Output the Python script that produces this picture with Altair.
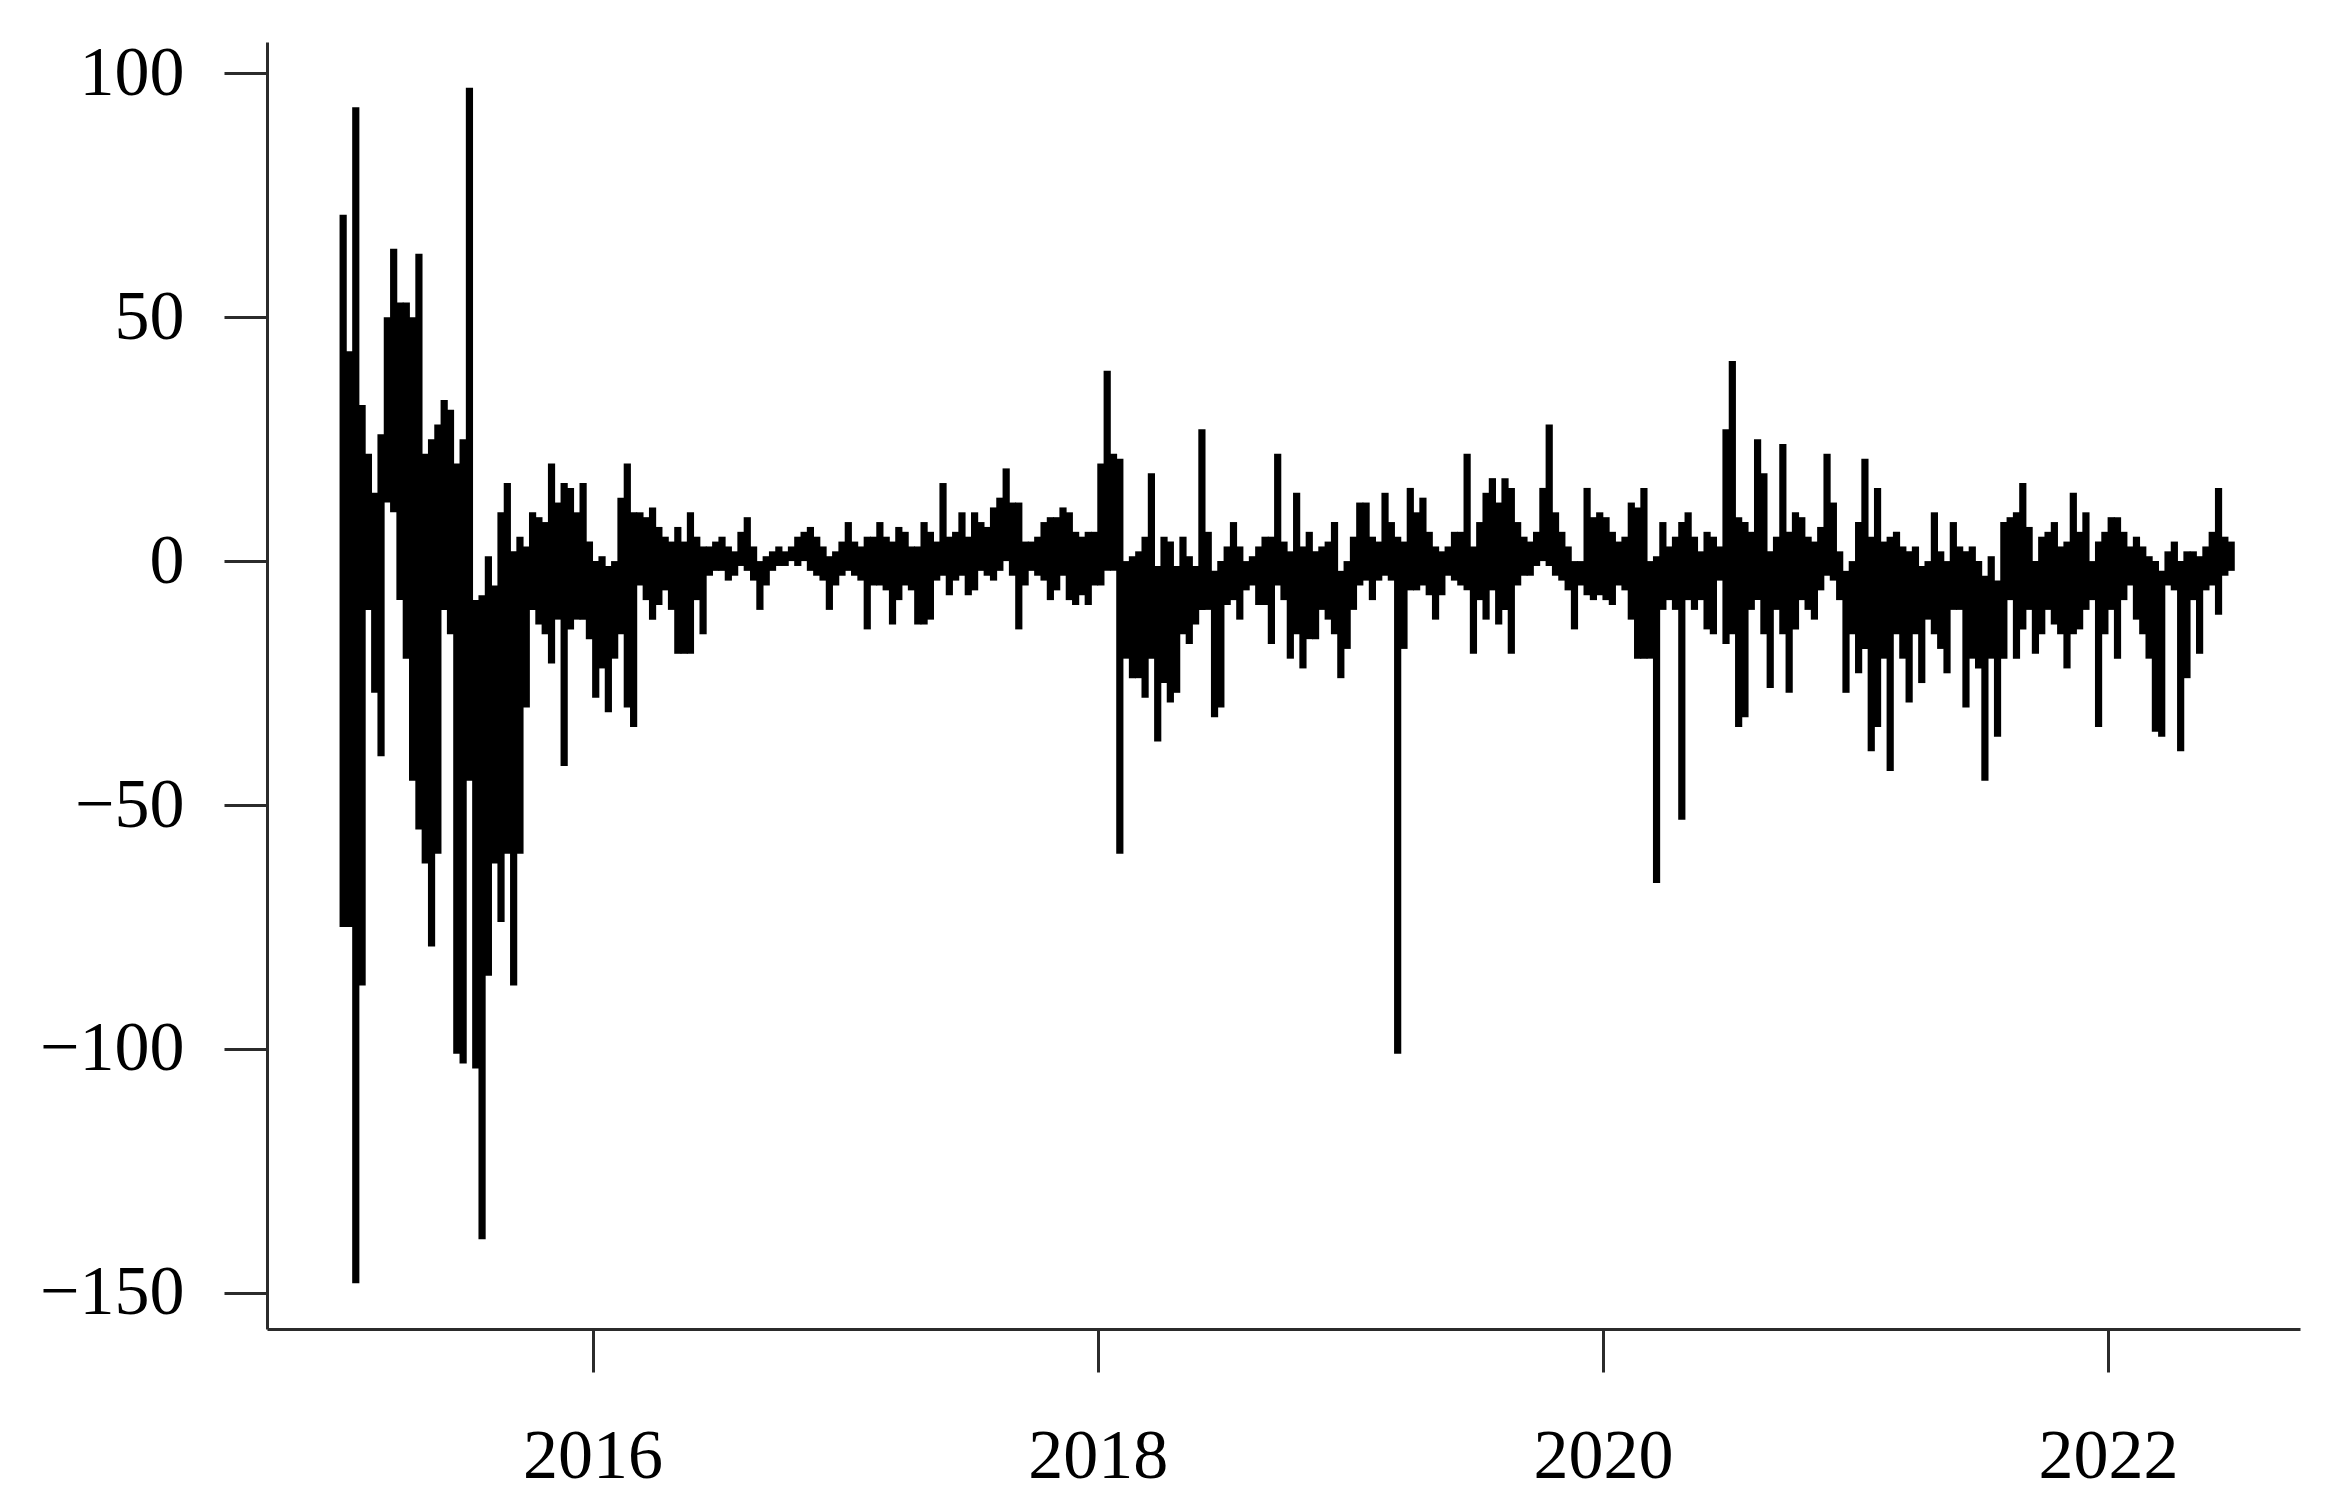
import altair as alt
import pandas as pd

# Time grid: buckets of 0.025 year starting at 2015.0 (each bucket shows the
# low and high of the series within that bucket, as read from the picture)
START_YEAR = 2015.0
STEP = 0.025

lo_2015 = [-75, -75, -148, -87, -10, -27, -40, 12, 10, -8,
           -20, -45, -55, -62, -79, -60, -10, -15, -101, -103,
           -45, -104, -139, -85, -62, -74, -60, -87, -60, -30,
           -10, -13, -15, -21, -12, -42, -14, -12, -12, -16]
hi_2015 = [71, 43, 93, 32, 22, 14, 26, 50, 64, 53,
           53, 50, 63, 22, 25, 28, 33, 31, 20, 25,
           97, -8, -7, 1, -5, 10, 16, 2, 5, 3,
           10, 9, 8, 20, 12, 16, 15, 10, 16, 4]

lo_2016 = [-28, -22, -31, -20, -15, -30, -34, -5, -8, -12,
           -9, -6, -10, -19, -19, -19, -8, -15, -3, -2,
           -2, -4, -3, -1, -2, -4, -10, -5, -2, -1,
           -1, 0, -1, 0, -2, -3, -4, -10, -5, -3]
hi_2016 = [0, 1, -1, 0, 13, 20, 10, 10, 9, 11,
           7, 5, 4, 7, 4, 10, 5, 3, 3, 4,
           5, 3, 2, 6, 9, 3, 0, 1, 2, 3,
           2, 3, 5, 6, 7, 5, 3, 1, 2, 4]

lo_2017 = [-2, -3, -4, -14, -5, -5, -6, -13, -8, -5,
           -6, -13, -13, -12, -4, -3, -7, -4, -3, -7,
           -6, -2, -3, -4, -2, 0, -3, -14, -5, -2,
           -3, -4, -8, -6, -3, -8, -9, -7, -9, -5]
hi_2017 = [8, 4, 3, 5, 5, 8, 5, 4, 7, 6,
           3, 3, 8, 6, 4, 16, 5, 6, 10, 5,
           10, 8, 7, 11, 13, 19, 12, 12, 4, 4,
           5, 8, 9, 9, 11, 10, 6, 5, 6, 6]

lo_2018 = [-5, -2, -2, -60, -20, -24, -24, -28, -20, -37,
           -25, -29, -27, -15, -17, -13, -10, -10, -32, -30,
           -9, -8, -12, -6, -5, -9, -9, -17, -5, -8,
           -20, -15, -22, -16, -16, -10, -12, -15, -24, -18]
hi_2018 = [20, 39, 22, 21, 0, 1, 2, 5, 18, -1,
           5, 4, -1, 5, 1, -1, 27, 6, -2, 0,
           3, 8, 3, 0, 1, 3, 5, 5, 22, 4,
           2, 14, 3, 6, 2, 3, 4, 8, -2, 0]

lo_2019 = [-10, -5, -4, -8, -4, -3, -4, -101, -18, -6,
           -6, -5, -7, -12, -7, -3, -4, -5, -6, -19,
           -8, -12, -6, -13, -10, -19, -5, -3, -3, -1,
           0, -1, -3, -4, -6, -14, -5, -7, -8, -7]
hi_2019 = [5, 12, 12, 5, 4, 14, 8, 5, 4, 15,
           10, 13, 6, 3, 2, 3, 6, 6, 22, 3,
           8, 14, 17, 12, 17, 15, 8, 5, 4, 6,
           15, 28, 10, 6, 3, 0, 0, 15, 9, 10]

lo_2020 = [-8, -9, -5, -6, -12, -20, -20, -20, -66, -10,
           -8, -10, -53, -8, -10, -8, -14, -15, -4, -17,
           -15, -34, -32, -10, -8, -15, -26, -10, -15, -27,
           -14, -8, -10, -12, -6, -3, -4, -8, -27, -15]
hi_2020 = [9, 6, 4, 5, 12, 11, 15, 0, 1, 8,
           3, 5, 8, 10, 5, 2, 6, 5, 3, 27,
           41, 9, 8, 6, 25, 18, 2, 5, 24, 6,
           10, 9, 5, 4, 7, 22, 12, 2, -2, 0]

lo_2021 = [-23, -18, -39, -34, -20, -43, -15, -20, -29, -15,
           -25, -12, -15, -18, -23, -10, -10, -30, -20, -22,
           -45, -20, -36, -20, -8, -20, -14, -10, -19, -15,
           -10, -13, -15, -22, -15, -14, -10, -8, -34, -15]
hi_2021 = [8, 21, 5, 15, 4, 5, 6, 3, 2, 3,
           -1, 0, 10, 2, 0, 8, 3, 2, 3, 0,
           -3, 1, -4, 8, 9, 10, 16, 7, 0, 5,
           6, 8, 3, 4, 14, 6, 10, 0, 4, 6]

lo_2022 = [-10, -20, -8, -5, -12, -15, -20, -35, -36, -5,
           -6, -39, -24, -8, -19, -6, -5, -11, -3, -2]
hi_2022 = [9, 9, 6, 3, 5, 3, 1, 0, -2, 2,
           4, 0, 2, 2, 1, 3, 6, 15, 5, 4]

x_ticks = [2016, 2018, 2020, 2022]
y_ticks = [-150, -100, -50, 0, 50, 100]

lo = lo_2015 + lo_2016 + lo_2017 + lo_2018 + lo_2019 + lo_2020 + lo_2021 + lo_2022
hi = hi_2015 + hi_2016 + hi_2017 + hi_2018 + hi_2019 + hi_2020 + hi_2021 + hi_2022
n = min(len(lo), len(hi))
years = [START_YEAR + STEP * (i + 0.5) for i in range(n)]
df = pd.DataFrame({"year": years, "lo": lo[:n], "hi": hi[:n]})

FONT = "Liberation Serif"

chart = (
    alt.Chart(df)
    .mark_rule(color="black", strokeWidth=7.2, strokeCap="butt")
    .encode(
        x=alt.X(
            "year:Q",
            scale=alt.Scale(domain=[2014.711, 2022.76], nice=False, zero=False),
            axis=alt.Axis(values=x_ticks, format="d", title=None, labelPadding=50),
        ),
        y=alt.Y(
            "lo:Q",
            scale=alt.Scale(domain=[-157.4, 106.4], nice=False, zero=False),
            axis=alt.Axis(values=y_ticks, title=None, labelPadding=40),
        ),
        y2="hi:Q",
    )
    .properties(
        width=2033,
        height=1287,
        autosize=alt.AutoSizeParams(type="none"),
        padding={"left": 259, "top": 34, "right": 30, "bottom": 175},
    )
    .configure_view(stroke=None)
    .configure_axis(
        grid=False,
        domainColor="#2b2b2b",
        domainWidth=3,
        tickColor="#2b2b2b",
        tickWidth=3,
        tickSize=43,
        labelFont=FONT,
        labelFontSize=70,
        labelColor="black",
    )
)

chart.save("out.html", embed_options={"renderer": "svg", "actions": False})
